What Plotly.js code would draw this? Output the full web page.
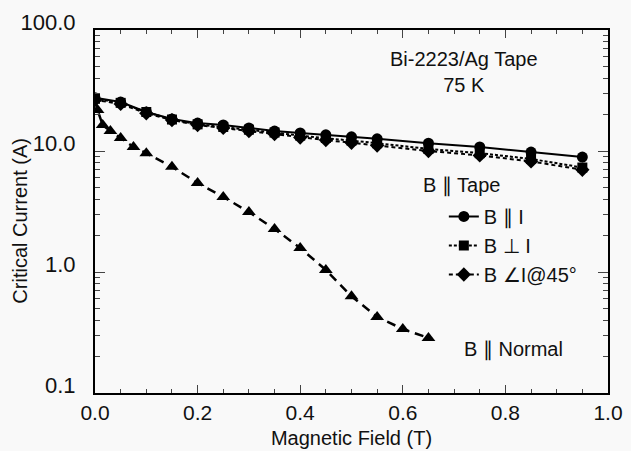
<!DOCTYPE html>
<html><head><meta charset="utf-8">
<script src="https://cdn.plot.ly/plotly-3.0.1.min.js"></script>
<style>body{margin:0;background:#f9f9f9}#c{width:631px;height:451px}</style>
</head><body><div id="c"></div>
<script>
const fieldTape = [0, 0.05, 0.1, 0.15, 0.2, 0.25, 0.3, 0.35, 0.4, 0.45, 0.5, 0.55, 0.65, 0.75, 0.85, 0.95];
const icParallelI = [27.5, 25.4, 21, 18.4, 17, 16.4, 15.5, 14.6, 14.1, 13.6, 13.1, 12.6, 11.6, 10.8, 9.8, 8.9];
const icPerpI = [27, 25, 21, 18.2, 16.6, 15.8, 15, 14.2, 13.4, 12.8, 12.2, 11.6, 10.4, 9.6, 8.6, 7.3];
const icAngle45 = [26.5, 24.5, 20.5, 18, 16.4, 15.5, 14.6, 13.8, 12.9, 12.3, 11.7, 11.1, 10.0, 9.2, 8.2, 7.0];
const fieldNormal = [0, 0.005, 0.015, 0.03, 0.05, 0.075, 0.1, 0.15, 0.2, 0.25, 0.3, 0.35, 0.4, 0.45, 0.5, 0.55, 0.6, 0.65];
const icNormal = [27, 21.8, 16.4, 14.6, 12.8, 10.8, 9.6, 7.4, 5.45, 4.17, 3.13, 2.27, 1.58, 1.04, 0.63, 0.425, 0.338, 0.285];
const yTickVals = [0.1, 1, 10, 100];
const yTickText = ["0.1", "1.0", "10.0", "100.0"];
const xTickVals = [0, 0.2, 0.4, 0.6, 0.8, 1.0];
const xTickText = ["0.0", "0.2", "0.4", "0.6", "0.8", "1.0"];

const F = "Liberation Sans, Arial, Helvetica, sans-serif";
const C = "#111";
const traces = [
  {x: fieldTape, y: icParallelI, name: "B ∥ I", mode: "lines+markers",
   line: {color: "#000", width: 2}, marker: {symbol: "circle", size: 11, color: "#000"}},
  {x: fieldTape, y: icPerpI, name: "B ⊥ I", mode: "lines+markers",
   line: {color: "#000", width: 2, dash: "3px,2px"}, marker: {symbol: "square", size: 10, color: "#000"}},
  {x: fieldTape, y: icAngle45, name: "B ∠I@45°", mode: "lines+markers",
   line: {color: "#000", width: 2, dash: "4px,3px"}, marker: {symbol: "diamond", size: 11, color: "#000"}},
  {x: fieldNormal, y: icNormal, name: "B ∥ Normal", mode: "lines+markers", showlegend: false,
   line: {color: "#000", width: 2.5, dash: "9px,6px"}, marker: {symbol: "triangle-up", size: 12, color: "#000"}}
];
const layout = {
  width: 631, height: 451,
  margin: {l: 95, r: 23, t: 30, b: 58},
  paper_bgcolor: "#f9f9f9", plot_bgcolor: "#f9f9f9",
  font: {family: F, size: 20, color: C},
  showlegend: true,
  legend: {x: 0.68, y: 0.54, xanchor: "left", yanchor: "top", bgcolor: "rgba(0,0,0,0)",
    font: {family: F, size: 20, color: C}, tracegroupgap: 0},
  xaxis: {range: [0, 1.0], tickvals: xTickVals, ticktext: xTickText, ticks: "inside", ticklen: 8,
    showline: true, linecolor: "#000", linewidth: 2, mirror: "ticks", showgrid: false, zeroline: false,
    minor: {dtick: 0.05, ticks: "inside", ticklen: 4, showgrid: false},
    ticklabelstandoff: 0,
    title: {text: "Magnetic Field (T)", font: {family: F, size: 20, color: C}, standoff: 8},
    tickfont: {family: F, size: 21, color: C}},
  yaxis: {type: "log", range: [-1, 2], tickvals: yTickVals, ticktext: yTickText, ticks: "inside", ticklen: 10,
    showline: true, linecolor: "#000", linewidth: 2, mirror: "ticks", showgrid: false, zeroline: false,
    minor: {dtick: "D1", ticks: "inside", ticklen: 5, showgrid: false},
    ticklabelstandoff: 13, ticklabelshift: -8,
    tickfont: {family: F, size: 22, color: C}},
  annotations: [
    {x: -0.148, y: 0.475, xref: "paper", yref: "paper", xanchor: "center", yanchor: "middle",
     text: "Critical Current (A)", textangle: -90, showarrow: false,
     font: {family: F, size: 20, color: C}},
    {x: 0.72, y: 0.885, xref: "paper", yref: "paper", xanchor: "center", yanchor: "middle",
     text: "Bi-2223/Ag Tape<br>75 K", showarrow: false,
     font: {family: F, size: 20, color: C}, align: "center"},
    {x: 0.715, y: 0.573, xref: "paper", yref: "paper", xanchor: "center", yanchor: "middle",
     text: "B ∥ Tape", showarrow: false, font: {family: F, size: 20, color: C}},
    {x: 0.815, y: 0.12, xref: "paper", yref: "paper", xanchor: "center", yanchor: "middle",
     text: "B ∥ Normal", showarrow: false, font: {family: F, size: 20, color: C}}
  ]
};
Plotly.newPlot("c", traces, layout, {displayModeBar: false, staticPlot: true});
</script></body></html>
